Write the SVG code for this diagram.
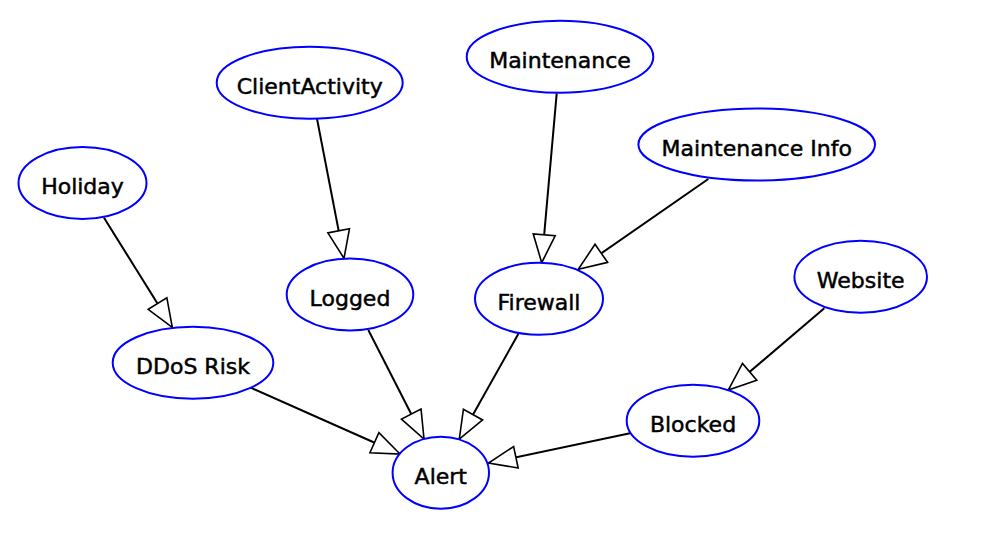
<svg xmlns="http://www.w3.org/2000/svg" width="994" height="546" viewBox="0 0 994 546">
<defs>
<style>
.node ellipse{fill:#fff;stroke:#0000ff;stroke-width:2}
.node text{font-family:"DejaVu Sans",sans-serif;font-size:22px;fill:#000;stroke:#000;stroke-width:0.5;text-anchor:middle}
.edges line{stroke:#000;stroke-width:2;marker-end:url(#arr)}
</style>
<marker id="arr" markerUnits="userSpaceOnUse" markerWidth="32" markerHeight="28" viewBox="0 0 32 28" refX="30" refY="14" orient="auto">
<path d="M2,3 L30,14 L2,25 Z" fill="#fff" stroke="#000" stroke-width="1.6"/>
</marker>
</defs>
<rect width="994" height="546" fill="#fff"/>
<g class="edges">
<line x1="317" y1="118.7" x2="344" y2="258.3"/>
<line x1="104" y1="217.7" x2="172.3" y2="327.3"/>
<line x1="556.7" y1="93.3" x2="541.7" y2="262.7"/>
<line x1="708.3" y1="179" x2="578.3" y2="269.3"/>
<line x1="824.3" y1="308.3" x2="728.3" y2="390"/>
<line x1="630" y1="433.3" x2="488.5" y2="463"/>
<line x1="250.7" y1="387.7" x2="400" y2="454"/>
<line x1="368.3" y1="330" x2="424" y2="439"/>
<line x1="518.3" y1="334" x2="459.3" y2="439"/>
</g>
<g id="ClientActivity" class="node"><ellipse cx="309.7" cy="82.7" rx="93" ry="36"/><text x="309.7" y="94">ClientActivity</text></g>
<g id="Maintenance" class="node"><ellipse cx="560" cy="56.7" rx="93.3" ry="36"/><text x="560" y="68">Maintenance</text></g>
<g id="MaintenanceInfo" class="node"><ellipse cx="756.7" cy="144.5" rx="118.3" ry="36"/><text x="756.7" y="156">Maintenance Info</text></g>
<g id="Holiday" class="node"><ellipse cx="82.5" cy="183" rx="64" ry="36"/><text x="82.5" y="194.3">Holiday</text></g>
<g id="Logged" class="node"><ellipse cx="350" cy="294.5" rx="63.3" ry="36"/><text x="350" y="306">Logged</text></g>
<g id="Firewall" class="node"><ellipse cx="539" cy="298.8" rx="64" ry="36"/><text x="539" y="310">Firewall</text></g>
<g id="Website" class="node"><ellipse cx="860.7" cy="276.7" rx="66.3" ry="36"/><text x="860.7" y="288">Website</text></g>
<g id="DDoSRisk" class="node"><ellipse cx="193" cy="362.7" rx="80.3" ry="36"/><text x="193" y="374">DDoS Risk</text></g>
<g id="Blocked" class="node"><ellipse cx="693" cy="420.7" rx="66.3" ry="36"/><text x="693" y="432">Blocked</text></g>
<g id="Alert" class="node"><ellipse cx="440.8" cy="472.7" rx="48.2" ry="36"/><text x="440.8" y="484">Alert</text></g>
</svg>
